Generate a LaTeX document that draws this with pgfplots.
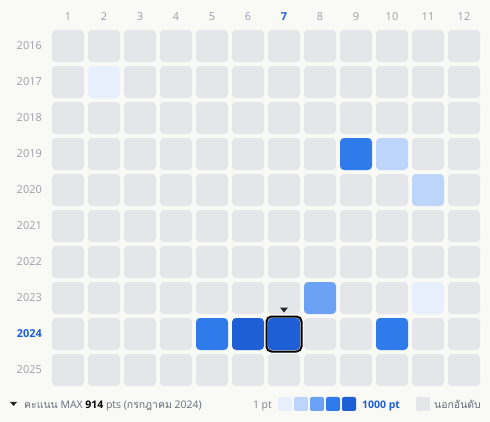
\documentclass[border=0pt]{standalone}
\usepackage{pgfplots}
\pgfplotsset{compat=1.18}
\usepackage{pgfplotstable}
\usepackage{fontspec}
\setmainfont{Open Sans}
\newfontfamily\thaifont[Script=Thai]{Loma}
\definecolor{bg}{HTML}{F9F9F6}
\definecolor{cg}{HTML}{E5E6EA}
\definecolor{ca}{HTML}{E8F0FE}
\definecolor{cb}{HTML}{BDD5FB}
\definecolor{cc}{HTML}{6CA2F5}
\definecolor{cd}{HTML}{2F7BEB}
\definecolor{ce}{HTML}{1E5FD6}
\definecolor{lbl}{HTML}{A09CAA}
\definecolor{txt}{HTML}{676B7A}
\definecolor{hl}{HTML}{1E5FD6}

\pgfdeclareplotmark{rsq}{%
  \pgfsetcornersarced{\pgfpoint{4bp}{4bp}}%
  \pgfpathmoveto{\pgfpoint{0bp}{-16bp}}%
  \pgfpathlineto{\pgfpoint{16bp}{-16bp}}%
  \pgfpathlineto{\pgfpoint{16bp}{16bp}}%
  \pgfpathlineto{\pgfpoint{-16bp}{16bp}}%
  \pgfpathlineto{\pgfpoint{-16bp}{-16bp}}%
  \pgfpathclose
  \pgfusepath{fill}}
\pgfdeclareplotmark{rsqborder}{%
  \pgfsetcornersarced{\pgfpoint{5bp}{5bp}}%
  \pgfsetlinewidth{2bp}%
  \pgfpathmoveto{\pgfpoint{0bp}{-17.5bp}}%
  \pgfpathlineto{\pgfpoint{17.5bp}{-17.5bp}}%
  \pgfpathlineto{\pgfpoint{17.5bp}{17.5bp}}%
  \pgfpathlineto{\pgfpoint{-17.5bp}{17.5bp}}%
  \pgfpathlineto{\pgfpoint{-17.5bp}{-17.5bp}}%
  \pgfpathclose
  \pgfusepath{stroke}}
\pgfdeclareplotmark{dtri}{%
  \pgfpathmoveto{\pgfpoint{-4bp}{26.5bp}}%
  \pgfpathlineto{\pgfpoint{4bp}{26.5bp}}%
  \pgfpathlineto{\pgfpoint{0bp}{21.5bp}}%
  \pgfpathclose\pgfusepath{fill}}

\pgfplotstableread[row sep=\\]{
m y lvl\\
1 2016 g\\ 2 2016 g\\ 3 2016 g\\ 4 2016 g\\ 5 2016 g\\ 6 2016 g\\ 7 2016 g\\ 8 2016 g\\ 9 2016 g\\ 10 2016 g\\ 11 2016 g\\ 12 2016 g\\
1 2017 g\\ 2 2017 a\\ 3 2017 g\\ 4 2017 g\\ 5 2017 g\\ 6 2017 g\\ 7 2017 g\\ 8 2017 g\\ 9 2017 g\\ 10 2017 g\\ 11 2017 g\\ 12 2017 g\\
1 2018 g\\ 2 2018 g\\ 3 2018 g\\ 4 2018 g\\ 5 2018 g\\ 6 2018 g\\ 7 2018 g\\ 8 2018 g\\ 9 2018 g\\ 10 2018 g\\ 11 2018 g\\ 12 2018 g\\
1 2019 g\\ 2 2019 g\\ 3 2019 g\\ 4 2019 g\\ 5 2019 g\\ 6 2019 g\\ 7 2019 g\\ 8 2019 g\\ 9 2019 d\\ 10 2019 b\\ 11 2019 g\\ 12 2019 g\\
1 2020 g\\ 2 2020 g\\ 3 2020 g\\ 4 2020 g\\ 5 2020 g\\ 6 2020 g\\ 7 2020 g\\ 8 2020 g\\ 9 2020 g\\ 10 2020 g\\ 11 2020 b\\ 12 2020 g\\
1 2021 g\\ 2 2021 g\\ 3 2021 g\\ 4 2021 g\\ 5 2021 g\\ 6 2021 g\\ 7 2021 g\\ 8 2021 g\\ 9 2021 g\\ 10 2021 g\\ 11 2021 g\\ 12 2021 g\\
1 2022 g\\ 2 2022 g\\ 3 2022 g\\ 4 2022 g\\ 5 2022 g\\ 6 2022 g\\ 7 2022 g\\ 8 2022 g\\ 9 2022 g\\ 10 2022 g\\ 11 2022 g\\ 12 2022 g\\
1 2023 g\\ 2 2023 g\\ 3 2023 g\\ 4 2023 g\\ 5 2023 g\\ 6 2023 g\\ 7 2023 g\\ 8 2023 c\\ 9 2023 g\\ 10 2023 g\\ 11 2023 a\\ 12 2023 g\\
1 2024 g\\ 2 2024 g\\ 3 2024 g\\ 4 2024 g\\ 5 2024 d\\ 6 2024 e\\ 7 2024 e\\ 8 2024 g\\ 9 2024 g\\ 10 2024 d\\ 11 2024 g\\ 12 2024 g\\
1 2025 g\\ 2 2025 g\\ 3 2025 g\\ 4 2025 g\\ 5 2025 g\\ 6 2025 g\\ 7 2025 g\\ 8 2025 g\\ 9 2025 g\\ 10 2025 g\\ 11 2025 g\\ 12 2025 g\\
}\cells

\begin{document}
\begin{tikzpicture}
\fill[bg] (0,0) rectangle (490bp,422bp);
\begin{axis}[
  at={(50bp,34bp)}, anchor=south west,
  scale only axis, width=432bp, height=360bp,
  xmin=0.5, xmax=12.5, ymin=2015.5, ymax=2025.5,
  y dir=reverse,
  clip=false,
  axis line style={draw=none},
  major tick length=0pt, tick style={draw=none},
  xtick={1,...,12},
  xticklabels={1,2,3,4,5,6,{\textbf{\color{hl}7}},8,9,10,11,12},
  ytick={2016,...,2025},
  yticklabels={2016,2017,2018,2019,2020,2021,2022,2023,{\textbf{\color{hl}2024}},2025},
  xticklabel pos=upper,
  tick label style={font=\fontsize{11}{13}\selectfont, text=lbl, inner sep=0pt},
  xticklabel style={yshift=7bp},
  yticklabel style={xshift=-8bp},
]
\addplot[scatter, only marks, scatter src=explicit symbolic,
  scatter/classes={
    g={mark=rsq,fill=cg,draw=none},
    a={mark=rsq,fill=ca,draw=none},
    b={mark=rsq,fill=cb,draw=none},
    c={mark=rsq,fill=cc,draw=none},
    d={mark=rsq,fill=cd,draw=none},
    e={mark=rsq,fill=ce,draw=none}}]
  table[x=m, y=y, meta=lvl] {\cells};
\addplot[only marks, mark=rsqborder, mark options={draw=black}] coordinates {(7,2024)};
\addplot[only marks, mark=dtri, mark options={fill=black!85}] coordinates {(7,2024)};
\end{axis}
% legend
\fill[black!85] (10bp,20bp) -- (17bp,20bp) -- (13.5bp,16bp) -- cycle;
\node[anchor=base west, inner sep=0pt, text=txt, font=\fontsize{10.5}{13}\selectfont] at (24bp,14bp)
  {{\thaifont คะแนน} MAX \textbf{\color{black}914} pts ({\thaifont กรกฎาคม} 2024)};
\node[anchor=base east, inner sep=0pt, text=lbl!80!black, font=\fontsize{10.5}{13}\selectfont] at (272bp,14bp) {1 pt};
\foreach \c [count=\i from 0] in {ca,cb,cc,cd,ce}
  \fill[\c, rounded corners=2bp] (278bp+16bp*\i,11bp) rectangle ++(14bp,14bp);
\node[anchor=base west, inner sep=0pt, text=hl, font=\fontsize{10.5}{13}\selectfont\bfseries] at (362bp,14bp) {1000 pt};
\fill[cg, rounded corners=2bp] (416bp,11bp) rectangle ++(14bp,14bp);
\node[anchor=base west, inner sep=0pt, text=txt, font=\fontsize{10.5}{13}\selectfont\thaifont] at (434bp,14bp) {นอกอันดับ};
\end{tikzpicture}
\end{document}
